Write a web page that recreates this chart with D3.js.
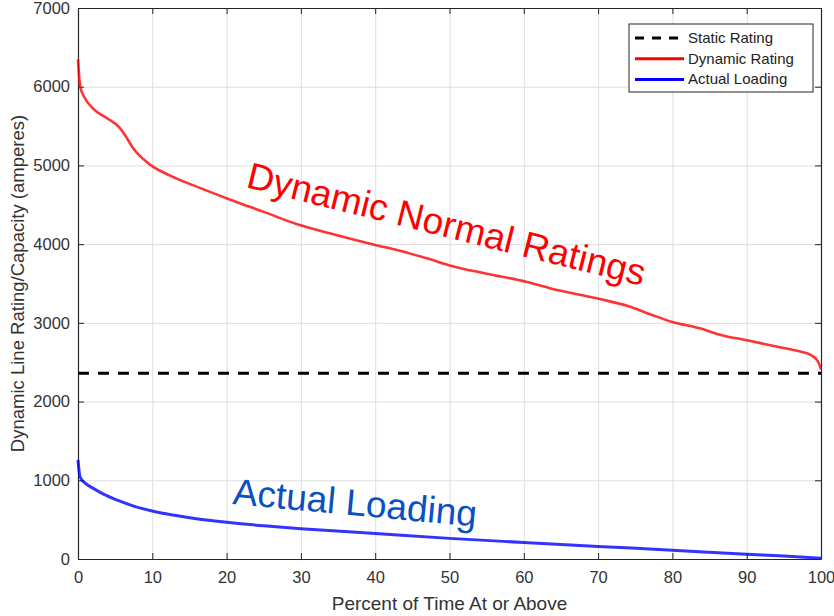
<!doctype html>
<html>
<head>
<meta charset="utf-8">
<title>Dynamic Line Rating</title>
<script src="https://d3js.org/d3.v7.min.js"></script>
<style>
  body { margin: 0; background: #fff; }
  svg { display: block; font-family: "Liberation Sans", Arial, Helvetica, sans-serif; }
  .tick text { fill: #333; font-size: 16.5px; }
  .axis path, .axis line { stroke: #262626; }
  .grid line { stroke: #dedede; }
  .grid path { display: none; }
</style>
</head>
<body>
<svg id="chart" width="834" height="616"></svg>
<script>
// percent of time (x) and ratings (amperes)
var dynPct = [0, 0.3, 0.9, 2, 3.9, 5.5, 6.3, 7.4, 9.7, 12.4, 16.4, 20.5, 25, 29.4, 35, 40, 43.3, 47.4, 50, 55, 60.3, 63.5, 69.8, 74, 77, 80, 83.7, 86, 90.2, 94, 97.2, 98.5, 99.2, 99.7, 100];
var dynRating = [6350, 6000, 5860, 5725, 5600, 5490, 5390, 5220, 5010, 4870, 4715, 4565, 4410, 4255, 4110, 3990, 3917, 3807, 3730, 3625, 3523, 3440, 3312, 3214, 3110, 3011, 2930, 2860, 2775, 2700, 2635, 2600, 2555, 2490, 2410];

var loadPct = [0, 0.27, 1, 2, 3.5, 5.2, 7.5, 10, 13, 16.4, 20, 25, 30, 40, 50, 60, 70, 80, 90, 95, 100];
var loading = [1258, 1045, 960, 900, 820, 750, 672, 610, 555, 505, 467, 422, 385, 324, 262, 210, 160, 112, 60, 38, 10];

var staticRating = [2360];

var xTicks = [0, 10, 20, 30, 40, 50, 60, 70, 80, 90, 100];
var yTicks = [0, 1000, 2000, 3000, 4000, 5000, 6000, 7000];

var legendNames = ["Static Rating", "Dynamic Rating", "Actual Loading"];
var legendColors = ["#000", "#ff0000", "#0000ff"];

var svg = d3.select("#chart");
var mLeft = 78, mRight = 821, mTop = 8, mBottom = 559;

var x = d3.scaleLinear().domain([0, 100]).range([mLeft, mRight]);
var y = d3.scaleLinear().domain([0, 7000]).range([mBottom, mTop]);

// grid
svg.append("g").attr("class", "grid")
  .attr("transform", "translate(0," + mBottom + ")")
  .call(d3.axisBottom(x).tickValues(xTicks).tickSize(-(mBottom - mTop)).tickFormat(""));
svg.append("g").attr("class", "grid")
  .attr("transform", "translate(" + mLeft + ",0)")
  .call(d3.axisLeft(y).tickValues(yTicks).tickSize(-(mRight - mLeft)).tickFormat(""));

// axes (box with inward ticks)
svg.append("g").attr("class", "axis")
  .attr("transform", "translate(0," + mBottom + ")")
  .call(d3.axisBottom(x).tickValues(xTicks).tickFormat(d3.format("d")).tickSizeInner(-6).tickSizeOuter(0).tickPadding(12));
svg.append("g").attr("class", "axis")
  .attr("transform", "translate(" + mLeft + ",0)")
  .call(d3.axisLeft(y).tickValues(yTicks).tickFormat(d3.format("d")).tickSizeInner(-6).tickSizeOuter(0).tickPadding(8));
svg.append("g").attr("class", "axis")
  .attr("transform", "translate(0," + mTop + ")")
  .call(d3.axisTop(x).tickValues(xTicks).tickSizeInner(-6).tickSizeOuter(0).tickFormat(""));
svg.append("g").attr("class", "axis")
  .attr("transform", "translate(" + mRight + ",0)")
  .call(d3.axisRight(y).tickValues(yTicks).tickSizeInner(-6).tickSizeOuter(0).tickFormat(""));
svg.selectAll(".axis .domain").attr("stroke-width", 1.2);

var line = d3.line().curve(d3.curveMonotoneX);

// static rating
svg.append("path")
  .attr("d", line([[0, staticRating[0]], [100, staticRating[0]]].map(function(d) { return [x(d[0]), y(d[1])]; })))
  .attr("fill", "none").attr("stroke", "#000").attr("stroke-width", 3)
  .attr("stroke-dasharray", "11,9");

// dynamic rating
svg.append("path")
  .attr("d", line(dynPct.map(function(p, i) { return [x(p), y(dynRating[i])]; })))
  .attr("fill", "none").attr("stroke", "#ff0000").attr("stroke-width", 2.6).attr("stroke-opacity", 0.8);

// actual loading
svg.append("path")
  .attr("d", line(loadPct.map(function(p, i) { return [x(p), y(loading[i])]; })))
  .attr("fill", "none").attr("stroke", "#0000ff").attr("stroke-width", 3).attr("stroke-opacity", 0.8);

// annotations
svg.append("text")
  .attr("transform", "translate(245,187) rotate(14)")
  .attr("fill", "#ff0000").attr("font-size", 37)
  .text("Dynamic Normal Ratings");
svg.append("text")
  .attr("transform", "translate(232,504) rotate(5.3)")
  .attr("fill", "#0a4fc4").attr("font-size", 37)
  .text("Actual Loading");

// axis labels
svg.append("text")
  .attr("x", (mLeft + mRight) / 2).attr("y", 610)
  .attr("text-anchor", "middle").attr("fill", "#333").attr("font-size", 19)
  .text("Percent of Time At or Above");
svg.append("text")
  .attr("transform", "translate(24," + (mTop + mBottom) / 2 + ") rotate(-90)")
  .attr("text-anchor", "middle").attr("fill", "#333").attr("font-size", 18.5)
  .text("Dynamic Line Rating/Capacity (amperes)");

// legend
var lg = svg.append("g");
lg.append("rect")
  .attr("x", 629).attr("y", 24).attr("width", 184).attr("height", 68)
  .attr("fill", "#fff").attr("stroke", "#262626").attr("stroke-width", 1);
legendNames.forEach(function(name, i) {
  var ly = 38 + i * 20.7;
  lg.append("line")
    .attr("x1", 635).attr("x2", 684).attr("y1", ly).attr("y2", ly)
    .attr("stroke", legendColors[i]).attr("stroke-width", 3)
    .attr("stroke-dasharray", i === 0 ? "9,8" : null);
  lg.append("text")
    .attr("x", 688).attr("y", ly + 5)
    .attr("fill", "#222").attr("font-size", 15)
    .text(name);
});
</script>
</body>
</html>
